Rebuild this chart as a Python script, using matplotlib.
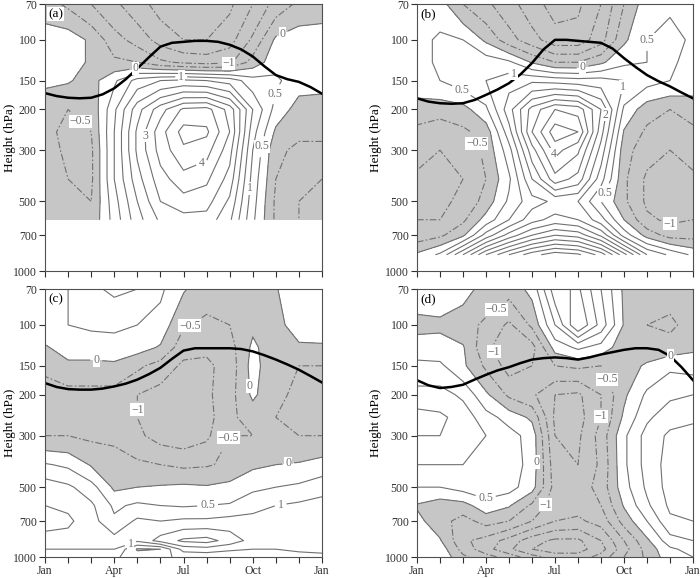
import numpy as np
import matplotlib
matplotlib.use("Agg")
import matplotlib.pyplot as plt
from matplotlib.ticker import NullLocator

plt.rcParams['font.family'] = ['Liberation Serif', 'DejaVu Serif']

# month axis (Jan .. next Jan) and pressure levels (hPa, top -> bottom)
months = [0, 1, 2, 3, 4, 5, 6, 7, 8, 9, 10, 11, 12]
month_ticks = ['Jan', '', '', 'Apr', '', '', 'Jul', '', '', 'Oct', '', '', 'Jan']
plev = [70, 100, 125, 150, 200, 250, 300, 400, 500, 600, 700, 850, 925, 1000]
p_ticks = [70, 100, 150, 200, 300, 500, 700, 1000]
nan = np.nan

# panel (a): no data below 600 hPa
field_a = [
    [-0.3, -0.6, -1.0, -1.4, -1.8, -2.2, -2.5, -2.5, -2.1, -1.5, -0.8, -0.4, -0.3],
    [0.3, 0.3, -0.1, -0.8, -1.2, -1.7, -2.0, -2.0, -1.7, -0.9, 0.1, 0.3, 0.3],
    [0.3, 0.3, -0.1, -0.4, -0.5, -0.9, -1.1, -1.2, -1.1, -0.3, 0.3, 0.3, 0.2],
    [0.1, 0.05, -0.2, 0.4, 1.2, 1.5, 1.6, 1.5, 1.3, 0.7, 0.6, 0.2, 0.15],
    [-0.3, -0.5, -0.4, 0.9, 2.3, 3.3, 4.1, 4.2, 3.3, 1.5, 0.3, -0.2, -0.2],
    [-0.4, -0.6, -0.5, 1.0, 2.6, 3.8, 4.7, 4.6, 3.5, 1.2, -0.1, -0.4, -0.4],
    [-0.3, -0.6, -0.6, 1.0, 2.6, 3.7, 4.4, 4.2, 3.2, 1.0, -0.4, -0.6, -0.6],
    [-0.3, -0.5, -0.6, 1.0, 2.3, 3.3, 3.8, 3.6, 2.8, 0.8, -0.5, -0.9, -1.0],
    [-0.3, -0.4, -0.5, 0.8, 2.0, 3.0, 3.3, 3.2, 2.4, 0.7, -0.6, -1.0, -1.1],
    [-0.2, -0.5, -0.4, 0.7, 1.8, 2.6, 2.8, 2.8, 2.1, 0.6, -0.6, -1.0, -1.1],
    [nan] * 13,
    [nan] * 13,
    [nan] * 13,
    [nan] * 13,
]

# panel (b): no data below 850 hPa
field_b = [
    [0.3, 0.2, -0.5, -0.9, -1.3, -1.8, -2.2, -2.1, -1.5, -0.5, 0.3, 0.4, 0.3],
    [0.3, 0.6, 0.5, -0.1, -0.8, -1.3, -1.8, -1.8, -1.2, -0.1, 0.5, 0.7, 0.4],
    [0.3, 0.6, 0.7, 0.8, 0.6, -0.05, -0.5, -0.5, -0.1, 0.4, 0.5, 0.6, 0.3],
    [0.4, 0.5, 0.8, 1.0, 1.3, 1.4, 1.3, 1.2, 1.2, 1.0, 0.7, 0.5, 0.3],
    [-0.3, -0.3, -0.2, 0.4, 1.8, 3.2, 4.0, 3.8, 2.5, 0.4, -0.3, -0.5, -0.3],
    [-0.6, -0.8, -0.6, -0.3, 1.3, 3.5, 4.8, 4.5, 2.2, -0.05, -0.6, -0.8, -0.6],
    [-0.8, -1.0, -0.8, -0.4, 0.8, 2.8, 4.2, 3.6, 1.8, -0.3, -0.8, -1.0, -0.8],
    [-1.1, -1.2, -1.0, -0.5, 0.4, 2.0, 3.3, 2.8, 1.2, -0.4, -1.1, -1.2, -1.1],
    [-1.1, -1.1, -0.9, -0.3, 0.6, 1.3, 1.6, 1.5, 0.5, -0.4, -1.1, -1.2, -1.1],
    [-1.0, -1.0, -0.6, 0.2, 1.0, 1.8, 2.2, 2.0, 1.2, 0.0, -0.9, -1.1, -1.0],
    [-0.8, -0.6, -0.1, 1.2, 2.2, 3.0, 3.5, 3.3, 2.4, 0.8, -0.2, -0.7, -0.7],
    [0.1, 0.6, 2.0, 3.5, 4.5, 5.3, 5.8, 5.6, 4.8, 3.2, 1.5, 0.9, 0.4],
    [nan] * 13,
    [nan] * 13,
]

field_c = [
    [0.2, 0.5, 0.9, 1.1, 1.0, 0.6, 0.05, -0.3, -0.4, -0.3, -0.05, 0.5, 0.3],
    [0.3, 0.5, 0.6, 0.6, 0.5, 0.3, -0.45, -0.6, -0.5, -0.1, -0.2, 0.3, 0.2],
    [-0.05, 0.2, 0.2, 0.3, 0.2, -0.05, -0.8, -0.9, -0.7, 0.1, -0.3, -0.1, -0.05],
    [-0.4, -0.1, -0.1, -0.1, -0.4, -0.7, -1.1, -1.1, -0.8, 0.2, -0.4, -0.5, -0.5],
    [-0.7, -0.7, -0.7, -0.7, -1.0, -1.2, -1.2, -1.1, -0.7, 0.1, -0.4, -0.6, -0.6],
    [-0.7, -0.8, -0.8, -0.6, -1.0, -1.3, -1.3, -1.2, -0.6, -0.3, -0.5, -0.7, -0.6],
    [-0.5, -0.5, -0.6, -0.6, -0.9, -1.2, -1.3, -1.1, -0.5, -0.5, -0.3, -0.5, -0.5],
    [0.55, 0.4, -0.05, -0.3, -0.4, -0.5, -0.6, -0.55, -0.4, -0.1, 0.0, 0.05, 0.2],
    [1.3, 1.1, 0.7, -0.1, 0.0, 0.05, 0.1, 0.05, 0.15, 0.4, 0.5, 0.6, 0.8],
    [1.5, 1.4, 1.1, 0.4, 0.6, 0.5, 0.45, 0.5, 0.55, 0.8, 1.0, 1.1, 1.2],
    [1.7, 1.6, 1.2, 0.6, 1.1, 1.0, 1.1, 1.1, 1.2, 1.2, 1.3, 1.4, 1.5],
    [1.3, 1.3, 1.2, 1.2, 1.1, 1.7, 2.1, 2.2, 1.8, 1.3, 1.2, 1.3, 1.4],
    [1.0, 1.0, 1.0, 1.0, -0.05, 0.0, 1.2, 1.3, 1.1, 1.0, 1.0, 1.1, 1.1],
    [0.9, 0.8, 0.8, 0.6, 0.2, 0.4, 0.6, 0.6, 0.6, 0.6, 0.7, 0.8, 0.9],
]

field_d = [
    [0.4, 0.3, 0.2, -0.2, -0.3, 0.15, 1.8, 2.1, 1.0, -0.1, -0.4, -0.3, -0.2],
    [-0.2, -0.1, -0.3, -0.6, -1.1, -0.4, 1.0, 2.5, 1.3, -0.05, -0.5, -0.6, -0.3],
    [0.3, 0.2, 0.05, -0.9, -1.3, -1.2, 0.2, 0.6, 0.3, -0.3, -0.4, -0.3, -0.1],
    [0.6, 0.6, 0.1, -0.6, -1.2, -1.0, -0.5, -0.4, -0.5, -0.3, 0.1, 0.4, 0.3],
    [1.2, 1.2, 0.9, 0.1, -0.6, -0.9, -1.5, -1.6, -1.0, -0.1, 0.6, 0.9, 1.0],
    [1.7, 1.6, 1.3, 0.7, 0.3, -0.1, -1.6, -1.7, -1.0, 0.1, 0.9, 1.3, 1.4],
    [1.5, 1.5, 1.3, 1.0, 0.7, 0.3, -1.5, -1.6, -0.8, 0.4, 1.2, 1.6, 1.7],
    [1.0, 1.0, 1.0, 1.0, 0.8, 0.3, -1.3, -1.5, -0.9, 0.4, 1.2, 1.7, 1.8],
    [0.5, 0.5, 0.7, 0.8, 0.7, 0.2, -1.2, -1.3, -0.8, 0.3, 1.1, 1.7, 1.8],
    [-0.05, -0.3, -0.2, 0.3, 0.05, -0.6, -1.3, -1.3, -1.0, 0.05, 0.9, 1.6, 1.7],
    [0.15, -0.3, -0.7, -0.3, -0.5, -1.0, -1.5, -1.6, -1.3, -0.3, 0.5, 1.4, 1.5],
    [0.3, 0.05, -0.9, -1.2, -1.7, -2.3, -2.6, -2.6, -2.0, -1.0, -0.1, 0.8, 1.0],
    [0.4, 0.3, -0.7, -1.3, -1.9, -2.5, -2.8, -2.7, -2.2, -1.2, -0.3, 0.4, 0.7],
    [0.4, 0.4, -0.4, -0.8, -1.2, -1.8, -2.2, -2.3, -1.8, -1.0, -0.4, 0.3, 0.5],
]

# thick black curve, read every half month (hPa)
half_months = [0, 0.5, 1, 1.5, 2, 2.5, 3, 3.5, 4, 4.5, 5, 5.5, 6,
               6.5, 7, 7.5, 8, 8.5, 9, 9.5, 10, 10.5, 11, 11.5, 12]
tropo_a = [170, 175, 178, 179, 178, 172, 162, 148, 133, 119, 107, 103, 102,
           101, 101, 102, 105, 110, 118, 130, 142, 148, 152, 160, 171]
tropo_b = [179, 185, 188, 189, 188, 182, 173, 164, 154, 141, 126, 110, 100,
           100, 101, 102, 103, 109, 120, 131, 142, 151, 159, 169, 179]
tropo_c = [178, 185, 189, 190, 190, 188, 184, 179, 172, 163, 153, 140, 129,
           126, 126, 126, 126, 127, 130, 135, 141, 148, 156, 166, 177]
tropo_d = [173, 182, 187, 185, 181, 172, 164, 157, 152, 146, 141, 139, 138,
           139, 141, 138, 134, 131, 128, 126, 126, 128, 136, 152, 173]

# contour labels: (level, month, hPa)
labels_a = [(0, 3.9, 131), (0, 10.3, 95), (-1, 7.95, 127), (1, 5.9, 140),
            (0.5, 10.6, 176), (-0.5, 1.5, 226), (3, 4.4, 260), (4, 6.9, 362),
            (0.5, 9.5, 290), (1, 8.8, 439)]
labels_b = [(0.5, 2.25, 139), (1, 4.25, 136), (0, 7.2, 131), (0.5, 9.5, 100),
            (1, 9.4, 164), (2, 8.77, 215), (4, 5.72, 320), (-0.5, 2.54, 282),
            (0.5, 8.4, 469), (-1, 11.0, 632)]
labels_c = [(-0.5, 6.32, 103), (0, 2.2, 153), (0, 8.5, 184), (-1, 4.15, 232),
            (-0.5, 8.06, 310), (0, 10.5, 370), (0.5, 7.05, 608), (1, 10.2, 588),
            (1, 3.65, 847)]
labels_d = [(-0.5, 3.54, 88), (-1, 3.18, 133), (0, 11.0, 130), (-0.5, 8.5, 167),
            (-1, 8.1, 248), (0, 5.35, 389), (0.5, 2.96, 569), (-1, 5.64, 598)]

LEVELS = [-3, -2.5, -2, -1.5, -1, -0.5, 0, 0.5, 1, 1.5, 2, 2.5, 3, 3.5, 4, 4.5, 5, 5.5]
SHADE = '#c6c6c6'
LINE = '#707070'
DASHDOT = (0, (6, 2, 1.5, 2))


def fmt(v):
    return f"{v:g}".replace('-', '\u2212')


def draw_panel(ax, field, tropo, labels, tag, show_x, label_x):
    z = np.ma.masked_invalid(np.array(field, dtype=float))
    X, Y = np.meshgrid(months, plev)

    ax.set_yscale('log')
    ax.set_ylim(1000, 70)
    ax.set_xlim(0, 12)

    ax.contourf(X, Y, z, levels=[-10, 0], colors=[SHADE])
    # one contour set per level so each label can target its own level
    sets = {}
    for lev in LEVELS:
        if z.min() < lev < z.max() or lev == 0:
            sets[lev] = ax.contour(X, Y, z, levels=[lev], colors=LINE,
                                   linewidths=0.8,
                                   linestyles=[DASHDOT] if lev < 0 else 'solid')
    ax.plot(half_months, tropo, color='black', lw=1.8)

    for lev, m, p in labels:
        cs = sets.get(lev)
        if cs is None or not cs.allsegs[0]:
            continue
        cs.clabel(manual=[(m, p)], inline=True, inline_spacing=3,
                  fmt=fmt, fontsize=8.5)
    for cs in sets.values():
        for t in getattr(cs, 'labelTexts', []):
            t.set_rotation(0)
            t.set_bbox(dict(facecolor='white', edgecolor='none', pad=0.4))

    ax.set_yticks(p_ticks)
    ax.set_yticklabels([str(p) for p in p_ticks])
    ax.yaxis.set_minor_locator(NullLocator())
    ax.set_xticks(months)
    ax.set_xticklabels(month_ticks if show_x else [''] * 13)
    ax.tick_params(direction='out', length=4, width=0.8, labelsize=8.5,
                   pad=2, colors='#303030', top=False, right=False)
    for sp in ax.spines.values():
        sp.set_color('#505050')
        sp.set_linewidth(0.8)
    ax.set_ylabel('Height (hPa)', fontsize=9.5)
    ax.yaxis.set_label_coords(label_x, 0.5)
    ax.text(0.012, 0.985, tag, transform=ax.transAxes, ha='left', va='top',
            fontsize=9.5, zorder=5,
            bbox=dict(facecolor='white', edgecolor='none', pad=0.8))


fig = plt.figure(figsize=(7.0, 5.78), dpi=100)
ax_a = fig.add_axes([0.0643, 0.5311, 0.3957, 0.4619])
ax_b = fig.add_axes([0.5957, 0.5311, 0.3943, 0.4619])
ax_c = fig.add_axes([0.0643, 0.0363, 0.3957, 0.4637])
ax_d = fig.add_axes([0.5957, 0.0363, 0.3943, 0.4637])

draw_panel(ax_a, field_a, tropo_a, labels_a, '(a)', False, -0.105)
draw_panel(ax_b, field_b, tropo_b, labels_b, '(b)', False, -0.125)
draw_panel(ax_c, field_c, tropo_c, labels_c, '(c)', True, -0.105)
draw_panel(ax_d, field_d, tropo_d, labels_d, '(d)', True, -0.125)

fig.savefig('out.png', dpi=100)
